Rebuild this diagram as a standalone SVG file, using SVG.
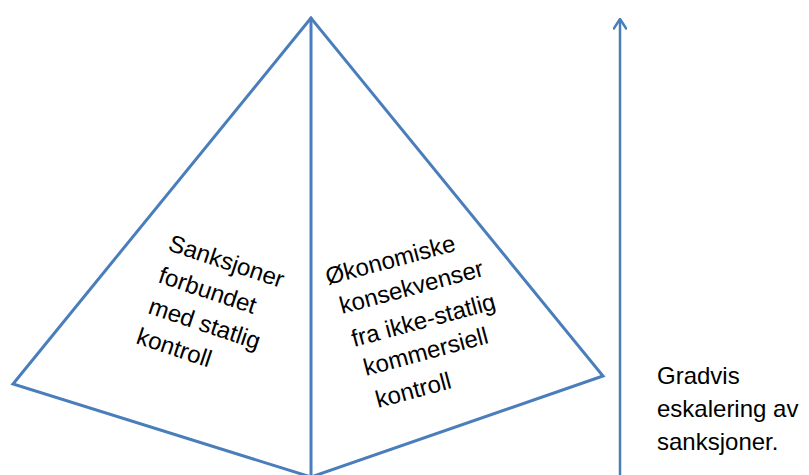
<svg xmlns="http://www.w3.org/2000/svg" width="809" height="475" viewBox="0 0 809 475">
  <defs>
    <style>
      .edge { fill: none; stroke: #4A7EBB; stroke-width: 3; stroke-linejoin: miter; stroke-linecap: round; }
      .arrow { fill: none; stroke: #4A7EBB; stroke-width: 2.5; }
      .lbl { font-family: "Liberation Sans", Arial, sans-serif; font-size: 24px; fill: #000; }
    </style>
    <!-- open chevron head, drawn along +x and turned to the line direction -->
    <marker id="openHead" viewBox="0 0 12 14" refX="10.5" refY="7" markerWidth="12" markerHeight="14" markerUnits="userSpaceOnUse" orient="auto">
      <path d="M1,0.8 L10.5,7 L1,13.2" fill="none" stroke="#4A7EBB" stroke-width="2.5" stroke-linecap="round" stroke-linejoin="round"/>
    </marker>
  </defs>
  <rect width="809" height="475" fill="#fff"/>

  <!-- pyramid outline seen from above -->
  <g id="pyramid">
    <path class="edge" d="M311,18 L13,384 L311,477 L603,376 Z"/>
    <line class="edge" x1="311" y1="18" x2="311" y2="477"/>
  </g>

  <!-- left face -->
  <g id="left-face">
    <text class="lbl" x="167" y="250" transform="rotate(18.5 167 250)">Sanksjoner</text>
    <text class="lbl" x="157" y="282" transform="rotate(18.5 157 282)">forbundet</text>
    <text class="lbl" x="147" y="313" transform="rotate(18.5 147 313)">med statlig</text>
    <text class="lbl" x="135" y="343" transform="rotate(18.5 135 343)">kontroll</text>
  </g>

  <!-- right face -->
  <g id="right-face">
    <text class="lbl" x="328" y="285" transform="rotate(-15 328 285)">Økonomiske</text>
    <text class="lbl" x="342" y="314" transform="rotate(-15 342 314)">konsekvenser</text>
    <text class="lbl" x="354" y="347" transform="rotate(-15 354 347)">fra ikke-statlig</text>
    <text class="lbl" x="366" y="376" transform="rotate(-15 366 376)">kommersiell</text>
    <text class="lbl" x="378" y="408" transform="rotate(-15 378 408)">kontroll</text>
  </g>

  <!-- escalation axis -->
  <g id="connectors">
    <line class="arrow" x1="620" y1="475" x2="620" y2="19" marker-end="url(#openHead)"/>
  </g>

  <g id="axis-label">
    <text class="lbl" x="657" y="384">Gradvis</text>
    <text class="lbl" x="657" y="417">eskalering av</text>
    <text class="lbl" x="657" y="450">sanksjoner.</text>
  </g>
</svg>
